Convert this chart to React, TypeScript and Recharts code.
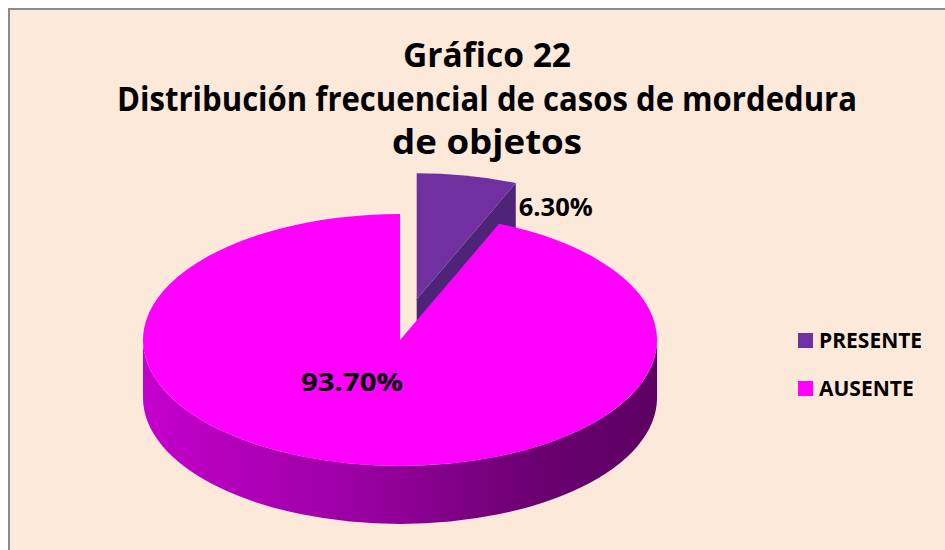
import { PieChart, Pie, Cell, Legend } from "recharts"

// values
const categories = ["PRESENTE", "AUSENTE"]
const percentages = [6.3, 93.7]
const titleLines = ["Gráfico 22", "Distribución frecuencial de casos de mordedura", "de objetos"]

const topColors = ["#7030A0", "#FF00FF"]
const faceColors = ["#4E2478", "#A000A8"]

const data = categories.map((name, i) => ({ name, value: percentages[i] }))

const FONT = "'Open Sans', Lato, sans-serif"
const TILT = 0.49 // ry / rx of the top face
const DEPTH = 58
const EXPLODE = 0.33
const RAD = Math.PI / 180

// draws each slice as a tilted, extruded wedge from the angles Recharts computed
function renderSlice(props: any) {
  const { cx, cy, outerRadius: r, startAngle, endAngle, midAngle, index, value } = props
  const ry = r * TILT
  const exploded = index === 0
  const ox = exploded ? EXPLODE * r * Math.cos(midAngle * RAD) : 0
  const oy = exploded ? -EXPLODE * ry * Math.sin(midAngle * RAD) : 0
  const ccx = cx + ox
  const ccy = cy + oy
  const px = (a: number) => ccx + r * Math.cos(a * RAD)
  const py = (a: number, h = 0) => ccy - ry * Math.sin(a * RAD) + h
  const hi = Math.max(startAngle, endAngle)
  const lo = Math.min(startAngle, endAngle)
  const large = hi - lo > 180 ? 1 : 0

  const top = `M${ccx},${ccy} L${px(hi)},${py(hi)} A${r},${ry} 0 ${large} 1 ${px(lo)},${py(lo)} Z`

  const walls: string[] = []
  for (let n = -2; n <= 2; n++) {
    const a1 = Math.max(lo, -180 + 360 * n)
    const a2 = Math.min(hi, 360 * n)
    if (a2 > a1) {
      walls.push(
        `M${px(a2)},${py(a2)} A${r},${ry} 0 0 1 ${px(a1)},${py(a1)} L${px(a1)},${py(a1, DEPTH)} A${r},${ry} 0 0 0 ${px(a2)},${py(a2, DEPTH)} Z`
      )
    }
  }

  const faces: string[] = []
  const face = (a: number) =>
    `M${ccx},${ccy} L${px(a)},${py(a)} L${px(a)},${py(a, DEPTH)} L${ccx},${ccy + DEPTH} Z`
  if (Math.cos(lo * RAD) > 0.001) faces.push(face(lo))
  if (Math.cos(hi * RAD) < -0.001) faces.push(face(hi))

  const gid = `wall-${index}`
  const text = `${Number(value).toFixed(2)}%`

  // label placement
  let lx: number, ly: number, anchor: "start" | "middle"
  if (exploded) {
    lx = px(lo) + 3
    ly = py(lo) + 33
    anchor = "start"
  } else {
    lx = cx + r * Math.cos(midAngle * RAD) * 0.95
    ly = cy - ry * Math.sin(midAngle * RAD) * 0.34 + 9
    anchor = "middle"
  }

  return (
    <g>
      <defs>
        <linearGradient id={gid} gradientUnits="userSpaceOnUse" x1={ccx - r} y1={0} x2={ccx + r} y2={0}>
          <stop offset="0" stopColor={index === 0 ? "#5a2a88" : "#C400CC"} />
          <stop offset="0.4" stopColor={index === 0 ? "#4a2070" : "#9C00A4"} />
          <stop offset="0.75" stopColor={index === 0 ? "#3a1860" : "#6C0072"} />
          <stop offset="1" stopColor={index === 0 ? "#341558" : "#5C0062"} />
        </linearGradient>
      </defs>
      {walls.map((d, i) => (
        <path key={`w${i}`} d={d} fill={`url(#${gid})`} />
      ))}
      {faces.map((d, i) => (
        <path key={`f${i}`} d={d} fill={faceColors[index]} />
      ))}
      <path d={top} fill={topColors[index]} />
      <text
        x={lx}
        y={ly}
        textAnchor={anchor}
        fontFamily={FONT}
        fontWeight={700}
        fontSize={25}
        fill="#000"
        textLength={exploded ? 74 : 102}
        lengthAdjust="spacingAndGlyphs"
      >
        {text}
      </text>
    </g>
  )
}

function renderLegend(props: any) {
  const payload = [...(props.payload || [])].sort(
    (a: any, b: any) => categories.indexOf(a.value) - categories.indexOf(b.value)
  )
  return (
    <div style={{ fontFamily: FONT, fontWeight: 700, fontSize: 21, color: "#000" }}>
      {payload.map((p: any, i: number) => (
        <div key={i} style={{ display: "flex", alignItems: "center", height: 48 }}>
          <span style={{ width: 15, height: 15, background: p.color, marginRight: 6, display: "inline-block" }} />
          <span>{p.value}</span>
        </div>
      ))}
    </div>
  )
}

export default function App() {
  const titleWidths = [168, 740, 190]
  const titleY = [67, 111, 154]
  return (
    <div style={{ position: "fixed", inset: 0, overflow: "hidden", background: "#fff" }}>
      <div
        style={{
          position: "absolute",
          left: 8,
          top: 8,
          width: 1000,
          height: 600,
          border: "2px solid #8c8c8c",
          background: "#FDE9D9",
        }}
      />
      <svg style={{ position: "absolute", left: 0, top: 0 }} width={945} height={180}>
        {titleLines.map((t, i) => (
          <text
            key={i}
            x={487}
            y={titleY[i]}
            textAnchor="middle"
            fontFamily={FONT}
            fontWeight={700}
            fontSize={34}
            fill="#000"
            textLength={titleWidths[i]}
            lengthAdjust="spacingAndGlyphs"
          >
            {t}
          </text>
        ))}
      </svg>
      <div style={{ position: "absolute", left: 0, top: 0 }}>
        <PieChart width={945} height={550} margin={{ top: 0, right: 0, bottom: 0, left: 0 }}>
          <Pie
            data={data}
            dataKey="value"
            nameKey="name"
            cx={400}
            cy={340}
            outerRadius={257}
            startAngle={90}
            endAngle={-270}
            stroke="none"
            fillOpacity={0}
            label={renderSlice}
            labelLine={false}
            isAnimationActive={false}
          >
            {data.map((d, i) => (
              <Cell key={d.name} fill={topColors[i]} fillOpacity={0} />
            ))}
          </Pie>
          <Legend
            content={renderLegend}
            wrapperStyle={{ position: "absolute", left: 798, top: 316, width: 150 }}
          />
        </PieChart>
      </div>
    </div>
  )
}
